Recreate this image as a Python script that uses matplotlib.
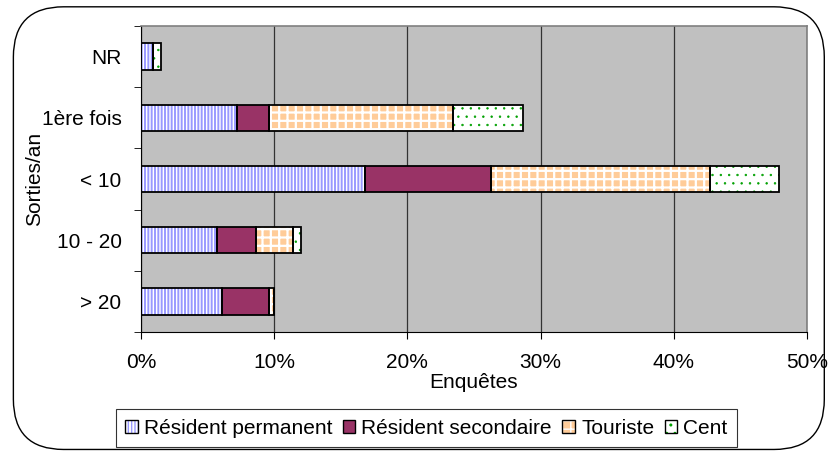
import matplotlib as mpl
import matplotlib.pyplot as plt
from matplotlib.patches import Patch, FancyBboxPatch
from matplotlib.legend_handler import HandlerTuple
from matplotlib.ticker import FuncFormatter, FixedLocator
import numpy as np

plt.rcParams['font.family'] = ['Liberation Sans', 'DejaVu Sans']

# donnees (% des enquetes)
categories = ["NR", "1ère fois", "< 10", "10 - 20", "> 20"]
resident_permanent = [0.9, 7.2, 16.8, 5.7, 6.1]
resident_secondaire = [0.0, 2.4, 9.5, 2.9, 3.5]
touriste = [0.0, 13.8, 16.4, 2.8, 0.4]
cent = [0.6, 5.3, 5.2, 0.6, 0.0]

# nom, valeurs, fond, couleur hachure, hachure, epaisseur hachure
series = [
    ("Résident permanent", resident_permanent, "white", "#9999FF", "|||||", 1.4),
    ("Résident secondaire", resident_secondaire, "#993366", "#993366", None, 1.0),
    ("Touriste", touriste, "#FFCC99", "white", "++", 1.6),
    ("Cent", cent, "white", "#00A000", "..", 0.5),
]

fs = 15

fig = plt.figure(figsize=(8.36, 4.54), dpi=100)
ax = fig.add_axes([0.1687, 0.2687, 0.7966, 0.674])

y = np.arange(len(categories))[::-1]
left = np.zeros(len(categories))
handles, labels = [], []
for name, vals, fc, hc, hatch, hlw in series:
    vals = np.array(vals)
    with mpl.rc_context({"hatch.linewidth": hlw}):
        # couche hachuree puis contour noir par dessus
        ax.barh(y, vals, left=left, height=0.43, color=fc, edgecolor=hc,
                hatch=hatch, linewidth=0, zorder=2)
        h1 = Patch(facecolor=fc, edgecolor=hc, hatch=hatch, linewidth=0)
    ax.barh(y, vals, left=left, height=0.43, fill=False, edgecolor="black",
            linewidth=1.3, zorder=3)
    left += vals
    h2 = Patch(fill=False, edgecolor="black", linewidth=1.0)
    handles.append((h1, h2))
    labels.append(name)

ax.set_facecolor("#C0C0C0")
ax.set_xlim(0, 50)
ax.set_ylim(-0.5, len(categories) - 0.5)
ax.set_xticks(np.arange(0, 51, 10))
ax.xaxis.set_major_formatter(FuncFormatter(lambda v, p: f"{int(v)}%"))
ax.xaxis.grid(True, color="#333333", linewidth=0.9, zorder=1)
ax.set_axisbelow(True)

ax.set_yticks(y)
ax.set_yticklabels(categories)
ax.tick_params(axis="y", length=0, pad=14, labelsize=fs)
ax.yaxis.set_minor_locator(FixedLocator(np.arange(-0.5, len(categories), 1.0)))
ax.tick_params(axis="y", which="minor", length=5, direction="out")
ax.tick_params(axis="x", length=5, direction="out", pad=10, labelsize=fs)

for s in ["top", "right"]:
    ax.spines[s].set_color("#808080")
    ax.spines[s].set_linewidth(1.2)
ax.spines["left"].set_color("black")
ax.spines["bottom"].set_color("black")

ax.set_xlabel("Enquêtes", fontsize=fs, labelpad=1)
ax.set_ylabel("Sorties/an", fontsize=fs)
ax.yaxis.set_label_coords(-0.145, 0.5)

leg = fig.legend(handles, labels, loc="center", bbox_to_anchor=(0.51, 0.057),
                 ncol=4, frameon=True, fancybox=False, edgecolor="black",
                 fontsize=fs, handlelength=0.6, handleheight=0.6,
                 handletextpad=0.3, columnspacing=0.5, borderpad=0.45,
                 handler_map={tuple: HandlerTuple(ndivide=1)})
leg.get_frame().set_linewidth(0.8)

fig.patches.append(FancyBboxPatch((0.016, 0.01), 0.97, 0.975,
                                  boxstyle="round,pad=0,rounding_size=0.06",
                                  transform=fig.transFigure, fill=False,
                                  edgecolor="black", linewidth=1.0,
                                  mutation_aspect=836 / 454))

fig.savefig("out.png", dpi=100)
